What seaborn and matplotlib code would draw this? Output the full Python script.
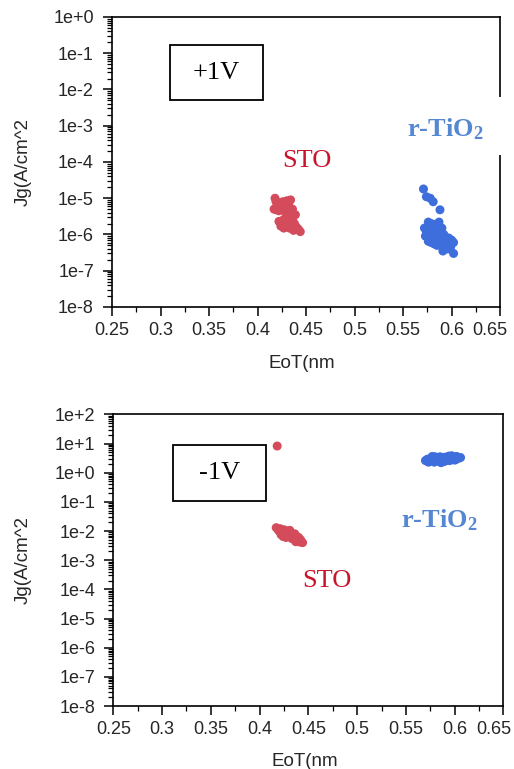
"""
EoT 与漏电流 Jg 散点图 (+1V / -1V), STO 与 r-TiO2 对比
"""

import numpy as np
import pandas as pd
import seaborn as sns
import matplotlib
matplotlib.use("Agg")
import matplotlib.pyplot as plt
from matplotlib.patches import Rectangle
from matplotlib.transforms import ScaledTranslation
from matplotlib.ticker import FixedLocator, LogLocator, FuncFormatter, NullFormatter

# +1V 数据
sto_pos_eot = [0.418, 0.419, 0.417, 0.420, 0.422, 0.424, 0.426, 0.428, 0.430, 0.432,
               0.434, 0.433, 0.436, 0.429, 0.431, 0.427, 0.422, 0.424, 0.427, 0.430,
               0.432, 0.434, 0.436, 0.435, 0.433, 0.438, 0.440, 0.442, 0.444, 0.437,
               0.425, 0.421, 0.439, 0.419, 0.428]
sto_pos_jg = [1.0e-5, 8.0e-6, 5.0e-6, 6.0e-6, 4.5e-6, 7.0e-6, 8.0e-6, 6.5e-6, 8.5e-6, 7.0e-6,
              9.0e-6, 5.0e-6, 5.0e-6, 4.0e-6, 3.5e-6, 2.6e-6, 2.3e-6, 1.7e-6, 1.5e-6, 2.2e-6,
              2.8e-6, 3.0e-6, 2.5e-6, 1.8e-6, 1.5e-6, 2.0e-6, 1.6e-6, 1.4e-6, 1.2e-6, 1.3e-6,
              5.5e-6, 7.5e-6, 3.5e-6, 4.8e-6, 2.0e-6]

tio2_pos_eot = [0.571, 0.574, 0.578, 0.581, 0.588, 0.576, 0.579, 0.587, 0.572, 0.574,
                0.582, 0.585, 0.589, 0.573, 0.577, 0.580, 0.583, 0.586, 0.590, 0.592,
                0.594, 0.597, 0.600, 0.602, 0.576, 0.579, 0.582, 0.585, 0.588, 0.591,
                0.594, 0.597, 0.591, 0.596, 0.599, 0.602, 0.584, 0.588, 0.593, 0.578,
                0.590, 0.581, 0.595, 0.599]
tio2_pos_jg = [1.8e-5, 1.1e-5, 1.0e-5, 8.0e-6, 4.8e-6, 2.2e-6, 2.0e-6, 2.2e-6, 1.5e-6, 1.2e-6,
               1.5e-6, 1.3e-6, 1.2e-6, 9.0e-7, 8.0e-7, 1.0e-6, 9.0e-7, 8.0e-7, 9.0e-7, 1.0e-6,
               7.0e-7, 8.0e-7, 7.0e-7, 6.0e-7, 6.5e-7, 6.0e-7, 5.5e-7, 5.0e-7, 5.5e-7, 6.0e-7,
               5.0e-7, 5.5e-7, 3.5e-7, 4.0e-7, 4.5e-7, 3.0e-7, 7.0e-7, 7.5e-7, 8.0e-7, 1.2e-6,
               1.5e-6, 1.9e-6, 6.5e-7, 6.0e-7]

# -1V 数据
sto_neg_eot = [0.418, 0.417, 0.419, 0.421, 0.423, 0.425, 0.426, 0.428, 0.430, 0.432,
               0.434, 0.436, 0.438, 0.440, 0.442, 0.444, 0.424, 0.427, 0.430, 0.433,
               0.436, 0.439, 0.441, 0.422, 0.429, 0.435, 0.420, 0.431, 0.437]
sto_neg_jg = [8.2, 1.3e-2, 1.1e-2, 1.2e-2, 9.0e-3, 1.1e-2, 8.0e-3, 1.0e-2, 9.0e-3, 8.5e-3,
              7.5e-3, 8.0e-3, 6.5e-3, 6.0e-3, 5.0e-3, 4.0e-3, 6.5e-3, 6.0e-3, 6.5e-3, 5.5e-3,
              5.0e-3, 4.5e-3, 4.2e-3, 7.5e-3, 7.5e-3, 6.0e-3, 1.0e-2, 1.05e-2, 4.3e-3]

tio2_neg_eot = [0.570, 0.572, 0.574, 0.576, 0.578, 0.580, 0.582, 0.584, 0.586, 0.588,
                0.590, 0.592, 0.594, 0.596, 0.598, 0.600, 0.602, 0.604, 0.606, 0.573,
                0.577, 0.581, 0.585, 0.589, 0.593, 0.597, 0.601, 0.579, 0.587, 0.595]
tio2_neg_jg = [2.6, 2.9, 2.4, 3.2, 2.7, 3.5, 2.5, 3.0, 2.2, 2.8,
               3.4, 2.6, 3.7, 2.9, 3.3, 2.7, 3.6, 3.1, 3.3, 2.3,
               3.6, 2.9, 3.5, 2.4, 3.1, 3.8, 2.8, 2.3, 3.2, 2.6]

x_ticks = [0.25, 0.3, 0.35, 0.4, 0.45, 0.5, 0.55, 0.6, 0.65]
x_tick_labels = ["0.25", "0.3", "0.35", "0.4", "0.45", "0.5", "0.55", "0.6", "0.65"]

RED = "#d44b5b"
BLUE = "#3e6edc"
RED_TXT = "#c8142c"
BLUE_TXT = "#5687d2"

sns.set_theme(style="ticks")
plt.rcParams["font.family"] = ["Liberation Sans", "DejaVu Sans"]
plt.rcParams["mathtext.fontset"] = "custom"
plt.rcParams["mathtext.rm"] = "Liberation Serif"
plt.rcParams["mathtext.bf"] = "Liberation Serif:bold"


def make_df(sto_x, sto_y, tio_x, tio_y):
    return pd.DataFrame({
        "EoT": sto_x + tio_x,
        "Jg": sto_y + tio_y,
        "Material": ["STO"] * len(sto_x) + ["r-TiO2"] * len(tio_x),
    })


def style_axis(fig, ax, ymin_exp, ymax_exp, xlab_y, ylab_x):
    ax.set_yscale("log")
    ax.set_xlim(0.25, 0.65)
    ax.set_ylim(10.0 ** ymin_exp, 10.0 ** ymax_exp)
    ax.xaxis.set_major_locator(FixedLocator(x_ticks))
    ax.set_xticklabels(x_tick_labels)
    ax.xaxis.set_minor_locator(FixedLocator(np.arange(0.275, 0.65, 0.05)))
    ax.yaxis.set_major_locator(FixedLocator([10.0 ** e for e in range(ymin_exp, ymax_exp + 1)]))
    ax.yaxis.set_major_formatter(FuncFormatter(lambda v, p: f"1e{int(round(np.log10(v))):+d}"))
    ax.yaxis.set_minor_locator(LogLocator(base=10, subs=range(2, 10), numticks=30))
    ax.yaxis.set_minor_formatter(NullFormatter())
    ax.tick_params(which="major", direction="out", length=6.5, width=1.1, labelsize=13, color="black")
    ax.tick_params(which="minor", direction="out", length=3.5, width=0.9, color="black")
    ax.tick_params(axis="x", which="major", pad=4)
    ax.tick_params(axis="y", which="major", pad=6.5)
    ax.tick_params(top=False, right=False)
    for sp in ax.spines.values():
        sp.set_visible(True)
        sp.set_linewidth(1.2)
        sp.set_color("black")
    ax.set_xlabel("EoT(nm", fontsize=13.5)
    ax.set_ylabel("Jg(A/cm^2", fontsize=13.5)
    ax.xaxis.set_label_coords(0.49, xlab_y)
    ax.yaxis.set_label_coords(ylab_x, 0.5)
    # 最后一个刻度标签向左收一点, 与原图一致
    last = ax.get_xticklabels()[-1]
    last.set_transform(last.get_transform() + ScaledTranslation(-0.1, 0, fig.dpi_scale_trans))


def voltage_box(ax, x0, y0, x1, y1, label):
    ax.add_patch(Rectangle((x0, y0), x1 - x0, y1 - y0, transform=ax.transAxes,
                           fill=False, edgecolor="black", linewidth=1.3, zorder=5))
    ax.text((x0 + x1) / 2, (y0 + y1) / 2, label, transform=ax.transAxes, ha="center", va="center",
            fontsize=19, family="Liberation Serif", color="black")


fig = plt.figure(figsize=(5.14, 7.69), dpi=100)
ax1 = fig.add_axes([0.218, 0.6008, 0.755, 0.3771])
ax2 = fig.add_axes([0.2205, 0.0819, 0.759, 0.3793])

palette = {"STO": RED, "r-TiO2": BLUE}

# 上图 +1V
df_pos = make_df(sto_pos_eot, sto_pos_jg, tio2_pos_eot, tio2_pos_jg)
sns.scatterplot(data=df_pos, x="EoT", y="Jg", hue="Material", palette=palette, s=42,
                edgecolor="none", legend=False, ax=ax1)
style_axis(fig, ax1, -8, 0, -0.166, -0.206)
voltage_box(ax1, 0.149, 0.714, 0.389, 0.903, "+1V")
ax1.text(0.451, 1.07e-4, "STO", ha="center", va="center", fontsize=19,
         family="Liberation Serif", color=RED_TXT)
ax1.text(0.593, 8.1e-4, r"r-TiO$\mathbf{_2}$", ha="center", va="center", fontsize=19,
         family="Liberation Serif", weight="bold", color=BLUE_TXT, zorder=6)
# 标签处右边框被遮挡
fig.patches.append(Rectangle((400 / 514, 1 - 155 / 769), 114 / 514, 58 / 769,
                             transform=fig.transFigure, facecolor="white", edgecolor="none", zorder=3))
fig.texts.append(ax1.texts[-1])

# 下图 -1V
df_neg = make_df(sto_neg_eot, sto_neg_jg, tio2_neg_eot, tio2_neg_jg)
sns.scatterplot(data=df_neg, x="EoT", y="Jg", hue="Material", palette=palette, s=42,
                edgecolor="none", legend=False, ax=ax2)
style_axis(fig, ax2, -8, 2, -0.16, -0.208)
voltage_box(ax2, 0.153, 0.704, 0.392, 0.895, "-1V")
ax2.text(0.469, 1.94e-4, "STO", ha="center", va="center", fontsize=19,
         family="Liberation Serif", color=RED_TXT)
ax2.text(0.584, 2.4e-2, r"r-TiO$\mathbf{_2}$", ha="center", va="center", fontsize=19,
         family="Liberation Serif", weight="bold", color=BLUE_TXT)

fig.savefig("out.png", dpi=100)
